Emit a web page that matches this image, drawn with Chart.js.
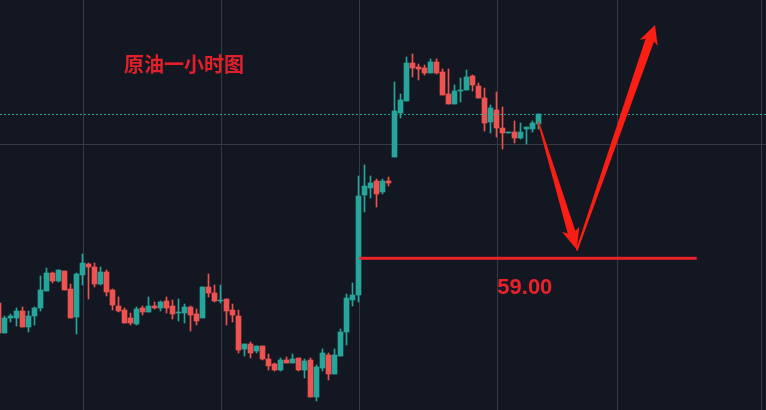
<!DOCTYPE html>
<html>
<head>
<meta charset="utf-8">
<script src="https://cdn.jsdelivr.net/npm/chart.js@4.4.1/dist/chart.umd.min.js"></script>
<style>
  html, body { margin: 0; padding: 0; background: #131722; }
  #wrap { width: 766px; height: 410px; }
</style>
</head>
<body>
<div id="wrap"><canvas id="kline" width="766" height="410"></canvas></div>
<script>
// ---- 1小时K线数据 (开/高/低/收) ----
const opens = [
  58.55, 58.25, 58.40, 58.40, 58.47, 58.31, 58.42, 58.50, 58.67, 58.85,
  58.77, 58.87, 58.69, 58.41, 58.83, 58.94, 58.91, 58.74, 58.86, 58.68,
  58.52, 58.48, 58.40, 58.34, 58.50, 58.46, 58.52, 58.50, 58.57, 58.52,
  58.45, 58.45, 58.51, 58.44, 58.40, 58.71, 58.65, 58.57, 58.59, 58.48,
  58.42, 58.09, 58.14, 58.07, 58.12, 57.99, 57.94, 57.88, 57.98, 57.95,
  58.00, 57.88, 57.98, 57.61, 57.90, 58.03, 57.84, 58.02, 58.26, 58.58,
  58.63, 59.63, 59.70, 59.77, 59.66, 59.77, 60.01, 60.45, 60.57, 60.95,
  60.91, 60.90, 60.85, 60.96, 60.86, 60.64, 60.54, 60.67, 60.68, 60.82,
  60.72, 60.60, 60.36, 60.48, 60.30, 60.25, 60.26, 60.20, 60.29, 60.29,
  60.34
];
const highs = [
  58.58, 58.42, 58.44, 58.50, 58.51, 58.47, 58.51, 58.82, 58.90, 58.86,
  58.88, 58.87, 58.74, 58.85, 59.04, 58.95, 58.95, 58.91, 58.88, 58.69,
  58.61, 58.50, 58.45, 58.51, 58.52, 58.61, 58.56, 58.57, 58.61, 58.58,
  58.59, 58.54, 58.52, 58.49, 58.71, 58.84, 58.73, 58.73, 58.59, 58.54,
  58.48, 58.14, 58.16, 58.12, 58.12, 58.04, 57.95, 58.00, 58.01, 58.04,
  58.00, 57.99, 58.00, 57.93, 58.09, 58.05, 58.09, 58.29, 58.64, 58.75,
  59.82, 59.93, 59.82, 59.79, 59.79, 59.81, 60.76, 60.64, 61.01, 61.04,
  60.94, 60.93, 60.99, 60.99, 60.89, 60.89, 60.73, 60.80, 60.88, 60.83,
  60.75, 60.70, 60.53, 60.66, 60.51, 60.26, 60.37, 60.35, 60.31, 60.37,
  60.44
];
const lows = [
  58.24, 58.25, 58.36, 58.32, 58.31, 58.26, 58.33, 58.47, 58.67, 58.75,
  58.76, 58.68, 58.40, 58.24, 58.73, 58.59, 58.71, 58.73, 58.62, 58.48,
  58.46, 58.35, 58.33, 58.33, 58.43, 58.46, 58.49, 58.47, 58.45, 58.39,
  58.37, 58.35, 58.27, 58.33, 58.40, 58.61, 58.56, 58.55, 58.33, 58.36,
  58.05, 58.02, 58.00, 58.05, 57.98, 57.88, 57.87, 57.87, 57.95, 57.95,
  57.87, 57.80, 57.61, 57.57, 57.87, 57.78, 57.84, 58.02, 58.13, 58.52,
  58.56, 59.46, 59.60, 59.51, 59.64, 59.72, 60.01, 60.40, 60.57, 60.81,
  60.78, 60.83, 60.85, 60.84, 60.63, 60.54, 60.54, 60.56, 60.68, 60.67,
  60.60, 60.27, 60.25, 60.21, 60.09, 60.25, 60.15, 60.19, 60.14, 60.26,
  60.29
];
const closes = [
  58.25, 58.40, 58.42, 58.47, 58.31, 58.42, 58.50, 58.68, 58.85, 58.77,
  58.88, 58.68, 58.40, 58.84, 58.95, 58.91, 58.74, 58.86, 58.66, 58.53,
  58.47, 58.35, 58.35, 58.49, 58.46, 58.52, 58.50, 58.56, 58.50, 58.44,
  58.46, 58.51, 58.43, 58.37, 58.71, 58.65, 58.57, 58.58, 58.47, 58.43,
  58.08, 58.14, 58.05, 58.12, 57.99, 57.92, 57.88, 57.98, 57.95, 57.99,
  57.88, 57.97, 57.61, 57.91, 58.05, 57.84, 58.03, 58.26, 58.60, 58.63,
  59.62, 59.72, 59.75, 59.64, 59.77, 59.75, 60.47, 60.58, 60.95, 60.90,
  60.89, 60.85, 60.96, 60.85, 60.63, 60.54, 60.67, 60.68, 60.81, 60.73,
  60.60, 60.35, 60.50, 60.30, 60.25, 60.26, 60.20, 60.26, 60.31, 60.35,
  60.44
];

// ---- 网格 / 标注 ----
const gridX = [14.17, 37.17, 60.17, 83.17, 103.17, 127.17];
const gridY = [60.135];
const lastPrice = closes[closes.length - 1];
const targetLevel = 59.00;
const targetLevelFrom = 60.13;
const targetLevelTo = 116.37;
const targetLabelAt = [87.72, 58.70];
const arrowDown = [[89.97, 60.363], [96.37, 59.085]];
const arrowUp = [[96.37, 59.075], [109.42, 61.33]];
const chartTitle = "原油一小时图";

const UP = "#26a69a";
const DOWN = "#ef5350";

const idx = opens.map((_, i) => i);
const colors = idx.map(i => closes[i] >= opens[i] ? UP : DOWN);
const bodies = idx.map(i => ({ x: i, y: [opens[i], closes[i]] }));
const wicks = idx.map(i => ({ x: i, y: [lows[i], highs[i]] }));

// ---- 箭头 ----
function drawArrow(ctx, x0, y0, x1, y1, w0, w1, headLen, headHalf) {
  const len = Math.hypot(x1 - x0, y1 - y0);
  const ux = (x1 - x0) / len, uy = (y1 - y0) / len;
  const nx = -uy, ny = ux;
  const bx = x1 - ux * headLen, by = y1 - uy * headLen;
  const wx = bx - ux * 3, wy = by - uy * 3;
  ctx.beginPath();
  ctx.moveTo(x0 + nx * w0 / 2, y0 + ny * w0 / 2);
  ctx.lineTo(bx + nx * w1 / 2, by + ny * w1 / 2);
  ctx.lineTo(wx + nx * headHalf, wy + ny * headHalf);
  ctx.lineTo(x1, y1);
  ctx.lineTo(wx - nx * headHalf, wy - ny * headHalf);
  ctx.lineTo(bx - nx * w1 / 2, by - ny * w1 / 2);
  ctx.lineTo(x0 - nx * w0 / 2, y0 - ny * w0 / 2);
  ctx.closePath();
  ctx.fill();
}

const overlay = {
  id: "overlay",
  beforeDraw(chart) {
    const ctx = chart.ctx;
    ctx.save();
    ctx.fillStyle = "#131722";
    ctx.fillRect(0, 0, chart.width, chart.height);
    ctx.restore();
  },
  beforeDatasetsDraw(chart) {
    const { ctx, chartArea: a, scales: { x, y } } = chart;
    ctx.save();
    ctx.strokeStyle = "#363a45";
    ctx.lineWidth = 1;
    gridX.forEach(v => {
      const px = Math.floor(x.getPixelForValue(v)) + 0.5;
      ctx.beginPath(); ctx.moveTo(px, a.top); ctx.lineTo(px, a.bottom); ctx.stroke();
    });
    gridY.forEach(v => {
      const py = Math.floor(y.getPixelForValue(v)) + 0.5;
      ctx.beginPath(); ctx.moveTo(a.left, py); ctx.lineTo(a.right, py); ctx.stroke();
    });
    ctx.restore();
  },
  afterDatasetsDraw(chart) {
    const { ctx, chartArea: a, scales: { x, y } } = chart;
    ctx.save();

    // 现价虚线
    const py = Math.round(y.getPixelForValue(lastPrice)) + 0.5;
    ctx.strokeStyle = UP;
    ctx.setLineDash([2, 2]);
    ctx.beginPath(); ctx.moveTo(a.left, py); ctx.lineTo(a.right, py); ctx.stroke();
    ctx.setLineDash([]);

    // 59.00 支撑线
    const ly = y.getPixelForValue(targetLevel);
    const lx0 = x.getPixelForValue(targetLevelFrom), lx1 = x.getPixelForValue(targetLevelTo);
    ctx.fillStyle = "#e8212a";
    ctx.fillRect(lx0, ly - 1.2, lx1 - lx0, 3);

    ctx.font = "bold 22px 'Liberation Sans', Arial, sans-serif";
    ctx.textAlign = "center";
    ctx.textBaseline = "middle";
    ctx.fillText(targetLevel.toFixed(2), x.getPixelForValue(targetLabelAt[0]), y.getPixelForValue(targetLabelAt[1]));

    // 标题
    ctx.fillStyle = "#e3202a";
    ctx.font = "bold 20px 'Noto Sans CJK SC', sans-serif";
    ctx.textAlign = "left";
    ctx.fillText(chartTitle, 124, 64);

    // 箭头
    ctx.fillStyle = "#fa1e14";
    drawArrow(ctx,
      x.getPixelForValue(arrowDown[0][0]), y.getPixelForValue(arrowDown[0][1]),
      x.getPixelForValue(arrowDown[1][0]), y.getPixelForValue(arrowDown[1][1]),
      1.5, 8, 18, 9);
    drawArrow(ctx,
      x.getPixelForValue(arrowUp[0][0]), y.getPixelForValue(arrowUp[0][1]),
      x.getPixelForValue(arrowUp[1][0]), y.getPixelForValue(arrowUp[1][1]),
      2, 9, 16, 9.5);
    ctx.restore();
  }
};

const ctx = document.getElementById("kline").getContext("2d");
new Chart(ctx, {
  type: "bar",
  data: {
    datasets: [
      { data: wicks, backgroundColor: colors, barThickness: 1, grouped: false, borderWidth: 0 },
      { data: bodies, backgroundColor: colors, barThickness: 5, grouped: false, borderWidth: 0, minBarLength: 1 }
    ]
  },
  options: {
    responsive: false,
    animation: false,
    layout: { padding: 0 },
    plugins: { legend: { display: false }, tooltip: { enabled: false } },
    scales: {
      x: { type: "linear", display: false, offset: false, grid: { offset: false }, min: 0.25, max: 127.9167 },
      y: { display: false, min: 57.48, max: 61.58 }
    }
  },
  plugins: [overlay]
});
</script>
</body>
</html>
